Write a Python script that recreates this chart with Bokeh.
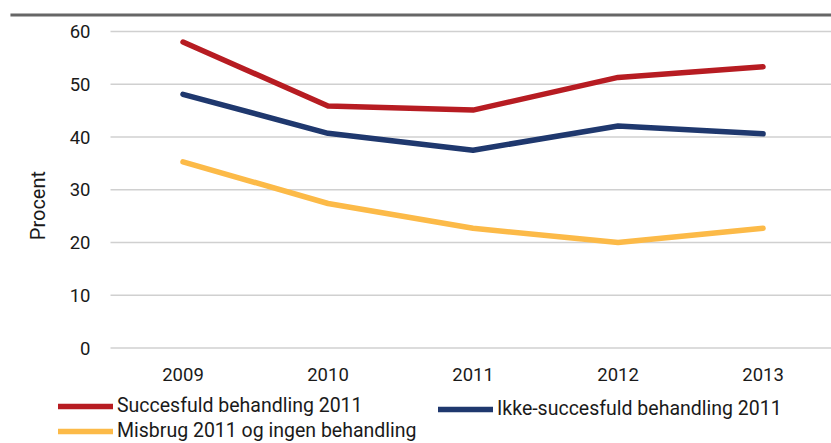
import math
from bokeh.plotting import figure
from bokeh.models import Range1d, FixedTicker, Legend, LegendItem, Label, BoxAnnotation, LinearAxis
from bokeh.embed import file_html
from bokeh.resources import INLINE

years = ["2009", "2010", "2011", "2012", "2013"]
succesfuld = [58.0, 45.9, 45.1, 51.3, 53.3]
ikke_succesfuld = [48.1, 40.7, 37.5, 42.1, 40.6]
misbrug = [35.3, 27.4, 22.7, 20.0, 22.7]
y_ticks = [0, 10, 20, 30, 40, 50, 60]

series_names = ["Succesfuld behandling 2011", "Ikke-succesfuld behandling 2011",
                "Misbrug 2011 og ingen behandling"]
colors = ["#B71C22", "#1F386E", "#FCBA48"]

FONT = "Roboto"
TXT = "#1a1a1a"

xs = list(range(len(years)))

# frame covers the whole canvas; axes are placed at fixed locations inside it
X0, X1 = -1.2586, 4.472
Y0, Y1 = -18.1, 65.88
p = figure(width=831, height=443, output_backend="svg", toolbar_location=None,
           x_range=Range1d(X0, X1), y_range=Range1d(Y0, Y1),
           x_axis_type=None, y_axis_type=None,
           min_border_left=0, min_border_right=0, min_border_top=0,
           min_border_bottom=0)
p.outline_line_color = None
p.background_fill_color = "white"
p.border_fill_color = "white"
p.xgrid.grid_line_color = None
p.ygrid.grid_line_color = None

# horizontal gridlines from the tick list
p.segment(x0=[-0.5] * len(y_ticks), x1=[X1] * len(y_ticks), y0=y_ticks, y1=y_ticks,
          line_color="#d0d0d0", line_width=1.5)

xaxis = LinearAxis(ticker=FixedTicker(ticks=xs), fixed_location=0,
                   major_label_overrides={i: y for i, y in enumerate(years)})
yaxis = LinearAxis(ticker=FixedTicker(ticks=y_ticks), fixed_location=-0.5)
for ax in (xaxis, yaxis):
    ax.axis_line_color = None
    ax.major_tick_line_color = None
    ax.minor_tick_line_color = None
    ax.major_tick_out = 0
    ax.major_tick_in = 0
    ax.major_label_text_font = FONT
    ax.major_label_text_font_size = "18.5px"
    ax.major_label_text_color = TXT
xaxis.major_label_standoff = 20
yaxis.major_label_standoff = 20
p.add_layout(xaxis, "below")
p.add_layout(yaxis, "left")

renderers = []
for vals, c in zip([succesfuld, ikke_succesfuld, misbrug], colors):
    r = p.line(xs, vals, line_color=c, line_width=5.5,
               line_cap="round", line_join="round")
    renderers.append(r)

# y axis title
p.add_layout(Label(x=-1.0, y=27.0, text="Procent", angle=math.pi / 2,
                   text_align="center", text_baseline="middle",
                   text_font=FONT, text_font_size="20px", text_color=TXT))

# top rule
p.add_layout(BoxAnnotation(left=-1.19, right=X1, top=63.42, bottom=62.85,
                           fill_color="#666666", fill_alpha=1, line_color=None))

def make_legend(items, loc):
    return Legend(items=items, location=loc, orientation="vertical",
                  padding=0, margin=0, spacing=2, label_height=20, glyph_height=20,
                  glyph_width=55, label_standoff=4,
                  label_text_font=FONT, label_text_font_size="19.5px",
                  label_text_color=TXT, border_line_color=None,
                  background_fill_alpha=0)

legA = make_legend([LegendItem(label=series_names[0], renderers=[renderers[0]]),
                    LegendItem(label=series_names[2], renderers=[renderers[2]])],
                   (58, 1))
legB = make_legend([LegendItem(label=series_names[1], renderers=[renderers[1]])],
                   (438, 23))
p.add_layout(legA)
p.add_layout(legB)

open("out.html", "w").write(file_html(p, INLINE))
